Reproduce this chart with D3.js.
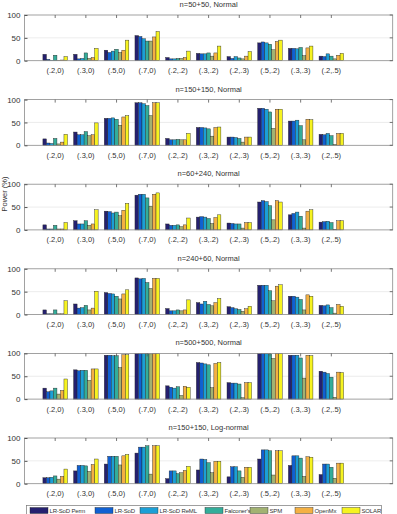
<!DOCTYPE html>
<html>
<head>
<meta charset="utf-8">
<script src="https://d3js.org/d3.v7.min.js"></script>
<style>
  body { margin: 0; background: #fff; }
  svg text { font-family: "Liberation Sans", Arial, sans-serif; fill: #333; }
</style>
</head>
<body>
<div id="chart"></div>
<script>
// categories (x tick labels)
var categories = ["(.2,0)", "(.3,0)", "(.5,0)", "(.7,0)", "(.2,.2)", "(.3,.2)", "(.2,.3)", "(.5,.2)", "(.3,.3)", "(.2,.5)"];
var methods = ["LR-SoD Perm", "LR-SoD", "LR-SoD ReML", "Falconer's", "SPM", "OpenMx", "SOLAR"];
var colors = ["#25206f", "#1060d2", "#1b9fd6", "#33ad9a", "#a2b272", "#f4b043", "#f6f320"];
var yTicks = [0, 50, 100];
var titles = ["n=50+50, Normal", "n=150+150, Normal", "n=60+240, Normal", "n=240+60, Normal", "n=500+500, Normal", "n=150+150, Log-normal"];

// power (%) per category, one row per method, per panel
var p1 = [
  [14, 14, 23, 55, 7, 16, 9, 39, 27, 10],
  [3, 4, 18, 53, 4, 15, 5, 41, 27, 9],
  [1, 5, 21, 48, 4, 15, 9, 39, 26, 15],
  [12, 17, 25, 43, 5, 17, 6, 36, 29, 10],
  [1, 5, 18, 43, 5, 10, 4, 24, 11, 4],
  [1.5, 7, 23, 52, 7, 17, 10, 42, 28, 12],
  [9, 27, 45, 64, 21, 32, 20, 45, 32, 16]
];
var p2 = [
  [14, 29, 59, 93, 15, 39, 18, 81, 53, 24],
  [5, 23, 59, 93, 12, 39, 18, 81, 53, 23],
  [4, 23, 60, 91, 12, 38, 17, 79, 55, 26],
  [15, 30, 57, 87, 13, 36, 15, 73, 43, 21],
  [3, 21, 44, 65, 12, 20, 7, 37, 12, 2],
  [7, 23, 62, 93, 12, 39, 18, 79, 57, 26],
  [24, 49, 65, 93, 26, 40, 18, 79, 56, 26]
];
var p3 = [
  [11, 20, 41, 76, 13, 28, 15, 61, 33, 17],
  [2, 13, 40, 78, 10, 29, 14, 64, 36, 18],
  [2, 13, 37, 78, 10, 28, 13, 62, 39, 19],
  [10, 20, 39, 70, 11, 25, 13, 53, 30, 16],
  [2, 10, 31, 52, 7, 14, 4, 22, 4, 0.5],
  [2, 13, 43, 78, 11, 27, 16, 64, 41, 20],
  [16, 44, 58, 81, 26, 33, 16, 61, 44, 20]
];
var p4 = [
  [10, 23, 48, 80, 13, 26, 17, 64, 40, 20],
  [1.5, 14, 46, 78, 8, 23, 15, 64, 40, 19],
  [1.5, 15, 45, 79, 8, 29, 12.5, 64, 38, 21],
  [10, 20, 40, 70, 10, 22, 11, 52, 33, 15],
  [1.5, 10, 34, 57, 8, 19, 7, 30, 10, 3],
  [1.5, 14, 45, 79, 10, 26, 12.5, 62, 43, 22],
  [30, 51, 54, 79, 32, 35, 18, 65, 40, 18]
];
var p5 = [
  [24, 64, 96, 100, 29, 80, 36, 100, 96, 61],
  [16, 62, 96, 100, 26, 79, 35, 100, 96, 59],
  [18, 63, 95, 100, 24, 77, 35, 100, 96, 56],
  [24, 63, 95, 100, 27, 75, 33, 99, 90, 48],
  [11, 41, 69, 99, 8, 25, 3, 89, 46, 4],
  [19, 66, 97, 100, 28, 78, 36, 100, 96, 59],
  [44, 66, 97, 100, 26, 80, 36, 100, 95, 58]
];
var p6 = [
  [13, 28, 43, 67, 11, 30, 15, 54, 40, 20],
  [13, 40, 60, 80, 28, 54, 37, 74, 61, 43],
  [14, 40, 60, 80, 28, 53, 37, 74, 61, 43],
  [17, 39, 60, 83, 22, 46, 28, 72, 56, 36],
  [10, 27, 41, 21, 24, 24, 14, 19, 16, 12],
  [16, 42, 61, 83, 29, 49, 36, 72, 59, 45],
  [32, 54, 64, 83, 38, 49, 36, 72, 58, 45]
];
var panels = [p1, p2, p3, p4, p5, p6];

var W = 397, H = 514;
var left = 24.5, right = 392.7, firstTop = 15, step = 84.6, ph = 45.7;

var svg = d3.select("#chart").append("svg")
  .attr("width", W).attr("height", H);

var x = d3.scaleLinear().domain([0, 12]).range([left, right]);
var gw = (x(1) - x(0)) * 0.8;
var xi = d3.scaleBand().domain(d3.range(methods.length)).range([-gw / 2, gw / 2]);

panels.forEach(function(data, pi) {
  var top = firstTop + pi * step;
  var y = d3.scaleLinear().domain([0, 100]).range([top + ph, top]);
  var g = svg.append("g");

  // grid line at 50
  g.append("line")
    .attr("x1", left).attr("x2", right)
    .attr("y1", y(50)).attr("y2", y(50))
    .attr("stroke", "#e4e4e4").attr("stroke-width", 0.7);

  // bars
  data.forEach(function(row, mi) {
    g.selectAll(null).data(row).enter().append("rect")
      .attr("x", function(d, i) { return x(i + 1) + xi(mi); })
      .attr("width", xi.bandwidth())
      .attr("y", function(d) { return y(d); })
      .attr("height", function(d) { return y(0) - y(d); })
      .attr("fill", colors[mi])
      .attr("stroke", "#222")
      .attr("stroke-width", 0.4);
  });

  // box
  g.append("rect")
    .attr("x", left).attr("y", top)
    .attr("width", right - left).attr("height", ph)
    .attr("fill", "none").attr("stroke", "#8a8a8a").attr("stroke-width", 0.8);

  // top ticks at groups
  g.selectAll(null).data(categories).enter().append("line")
    .attr("x1", function(d, i) { return x(i + 1); })
    .attr("x2", function(d, i) { return x(i + 1); })
    .attr("y1", top).attr("y2", top + 3)
    .attr("stroke", "#555").attr("stroke-width", 0.8);

  // left axis
  var ya = g.append("g")
    .attr("transform", "translate(" + left + ",0)")
    .call(d3.axisLeft(y).tickValues(yTicks).tickSize(-3).tickPadding(4));
  ya.select(".domain").remove();
  ya.selectAll("line").attr("stroke", "#555");
  ya.selectAll("text").attr("font-size", 8).attr("fill", "#333");

  // right ticks
  g.selectAll(null).data(yTicks).enter().append("line")
    .attr("x1", right).attr("x2", right - 3)
    .attr("y1", function(d) { return y(d); })
    .attr("y2", function(d) { return y(d); })
    .attr("stroke", "#555").attr("stroke-width", 0.8);

  // x labels
  g.selectAll(null).data(categories).enter().append("text")
    .attr("x", function(d, i) { return x(i + 1); })
    .attr("y", top + ph + 12.5)
    .attr("text-anchor", "middle")
    .attr("font-size", 7.5)
    .text(function(d) { return d; });

  // title
  g.append("text")
    .attr("x", (left + right) / 2).attr("y", top - 8)
    .attr("text-anchor", "middle")
    .attr("font-size", 7.5)
    .text(titles[pi]);
});

// y label
svg.append("text")
  .attr("transform", "translate(7,194) rotate(-90)")
  .attr("text-anchor", "middle")
  .attr("font-size", 7.5)
  .text("Power (%)");

// legend
var legendX = [30, 95, 140, 205, 250, 295, 342];
var lg = svg.append("g");
lg.append("rect")
  .attr("x", 26.5).attr("y", 505.5).attr("width", 355).attr("height", 12)
  .attr("fill", "#fff").attr("stroke", "#777").attr("stroke-width", 0.7);
methods.forEach(function(m, i) {
  lg.append("rect")
    .attr("x", legendX[i]).attr("y", 507.5).attr("width", 18).attr("height", 6)
    .attr("fill", colors[i]).attr("stroke", "#222").attr("stroke-width", 0.4);
  lg.append("text")
    .attr("x", legendX[i] + 19.5).attr("y", 513)
    .attr("font-size", 6)
    .attr("letter-spacing", -0.15)
    .text(m);
});
</script>
</body>
</html>
